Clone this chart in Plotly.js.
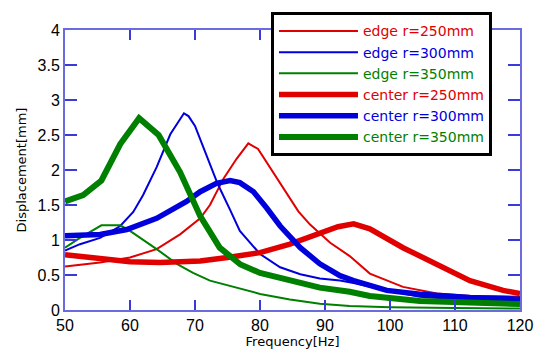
<!DOCTYPE html>
<html>
<head>
<meta charset="utf-8">
<script src="https://cdn.plot.ly/plotly-3.0.1.min.js"></script>
<style>html,body{margin:0;padding:0;background:#fff;}#chart{width:544px;height:355px;}</style>
</head>
<body>
<div id="chart"></div>
<script>
// Series names
const seriesNames = ["edge r=250mm", "edge r=300mm", "edge r=350mm", "center r=250mm", "center r=300mm", "center r=350mm"];

// edge r=250mm
const freqEdge250 = [50, 55.4, 60, 64.1, 67.7, 70.8, 72.3, 74.4, 76.4, 78.2, 79.7, 82, 84.1, 85.9, 87.7, 90.8, 93.8, 96.9, 102, 107.2, 112.3, 120];
const dispEdge250 = [0.62, 0.68, 0.75, 0.87, 1.08, 1.31, 1.50, 1.88, 2.16, 2.38, 2.30, 1.97, 1.67, 1.41, 1.22, 0.96, 0.77, 0.52, 0.33, 0.235, 0.20, 0.19];

// edge r=300mm
const freqEdge300 = [50, 52.3, 55.4, 58.5, 60.5, 62, 64.1, 66.2, 68.3, 69, 70, 71.8, 73.5, 75.4, 76.9, 80, 83.1, 86.2, 89.2, 92.3, 94.4, 99.5, 104.6, 112.3, 120];
const dispEdge300 = [0.85, 0.94, 1.03, 1.20, 1.40, 1.64, 2.04, 2.51, 2.81, 2.77, 2.63, 2.21, 1.80, 1.43, 1.13, 0.80, 0.61, 0.51, 0.45, 0.42, 0.385, 0.28, 0.19, 0.14, 0.12];

// edge r=350mm
const freqEdge350 = [50, 52.3, 55.6, 58.5, 60, 64.1, 67.2, 69.7, 72.3, 75.4, 80, 84.6, 89.2, 93.8, 100, 110, 120];
const dispEdge350 = [0.89, 1.03, 1.21, 1.21, 1.13, 0.87, 0.66, 0.53, 0.42, 0.34, 0.23, 0.15, 0.09, 0.056, 0.04, 0.03, 0.02];

// center r=250mm
const freqCenter250 = [50, 55.4, 60, 64.6, 70.8, 75, 80, 84.6, 89.2, 92, 94.4, 96.9, 102, 107.2, 112.3, 117.4, 120];
const dispCenter250 = [0.79, 0.73, 0.69, 0.68, 0.70, 0.75, 0.82, 0.94, 1.10, 1.19, 1.23, 1.16, 0.89, 0.66, 0.42, 0.28, 0.235];

// center r=300mm
const freqCenter300 = [50, 55.4, 59.5, 64.1, 68.7, 70.8, 73.3, 75.4, 76.9, 79, 81, 83.1, 86.2, 89.2, 92.3, 94.4, 99.5, 104.6, 112.3, 120];
const dispCenter300 = [1.06, 1.08, 1.15, 1.31, 1.55, 1.69, 1.81, 1.85, 1.82, 1.69, 1.46, 1.20, 0.89, 0.66, 0.49, 0.42, 0.28, 0.225, 0.18, 0.155];

// center r=350mm
const freqCenter350 = [50, 52.8, 55.6, 58.5, 61.4, 64.4, 67.7, 70.8, 73.8, 75.4, 77, 80, 84.6, 89.2, 93.8, 96.9, 104.6, 112.3, 120];
const dispCenter350 = [1.55, 1.64, 1.85, 2.37, 2.74, 2.50, 1.97, 1.34, 0.89, 0.77, 0.65, 0.53, 0.42, 0.32, 0.26, 0.20, 0.13, 0.10, 0.085];

const xTicks = [50, 60, 70, 80, 90, 100, 110, 120];
const yTicks = [0, 0.5, 1, 1.5, 2, 2.5, 3, 3.5, 4];

const RED = "#e00000", BLUE = "#0000dd", GREEN = "#008000";
const xs = [freqEdge250, freqEdge300, freqEdge350, freqCenter250, freqCenter300, freqCenter350];
const ys = [dispEdge250, dispEdge300, dispEdge350, dispCenter250, dispCenter300, dispCenter350];
const colors = [RED, BLUE, GREEN, RED, BLUE, GREEN];
const widths = [2, 2, 2, 5.5, 5.5, 6];

const traces = seriesNames.map((n, i) => ({
  x: xs[i], y: ys[i], type: "scatter", mode: "lines",
  name: '<span style="color:' + colors[i] + '">' + n + '</span>',
  line: {color: colors[i], width: widths[i]}
}));

const axisCommon = {
  showgrid: false, zeroline: false,
  showline: true, linecolor: "#6b6be0", linewidth: 2, mirror: "ticks",
  ticks: "inside", tickcolor: "#3a3ad8", tickwidth: 2,
  tickfont: {family: "Liberation Sans, Arial, sans-serif", size: 16, color: "#000"}
};

const layout = {
  width: 544, height: 355,
  margin: {l: 65, r: 24, t: 26, b: 45},
  paper_bgcolor: "#fff", plot_bgcolor: "#fff",
  showlegend: true,
  xaxis: Object.assign({}, axisCommon, {
    range: [50, 120], tickvals: xTicks, ticklen: 10,
    title: {text: "Frequency[Hz]", font: {family: "DejaVu Sans, sans-serif", size: 13, color: "#000"}, standoff: 4}
  }),
  yaxis: Object.assign({}, axisCommon, {
    range: [0, 4], tickvals: yTicks, ticklen: 12,
    title: {text: "Displacement[mm]", font: {family: "DejaVu Sans, sans-serif", size: 13, color: "#000"}, standoff: 8}
  }),
  legend: {
    x: 0.4527, y: 1.063, xanchor: "left", yanchor: "top",
    bgcolor: "#fff", bordercolor: "#000", borderwidth: 3,
    itemwidth: 79,
    font: {family: "DejaVu Sans, sans-serif", size: 14, color: "#000"},
    tracegroupgap: 0
  }
};

Plotly.newPlot("chart", traces, layout, {displayModeBar: false, staticPlot: true});
</script>
</body>
</html>
